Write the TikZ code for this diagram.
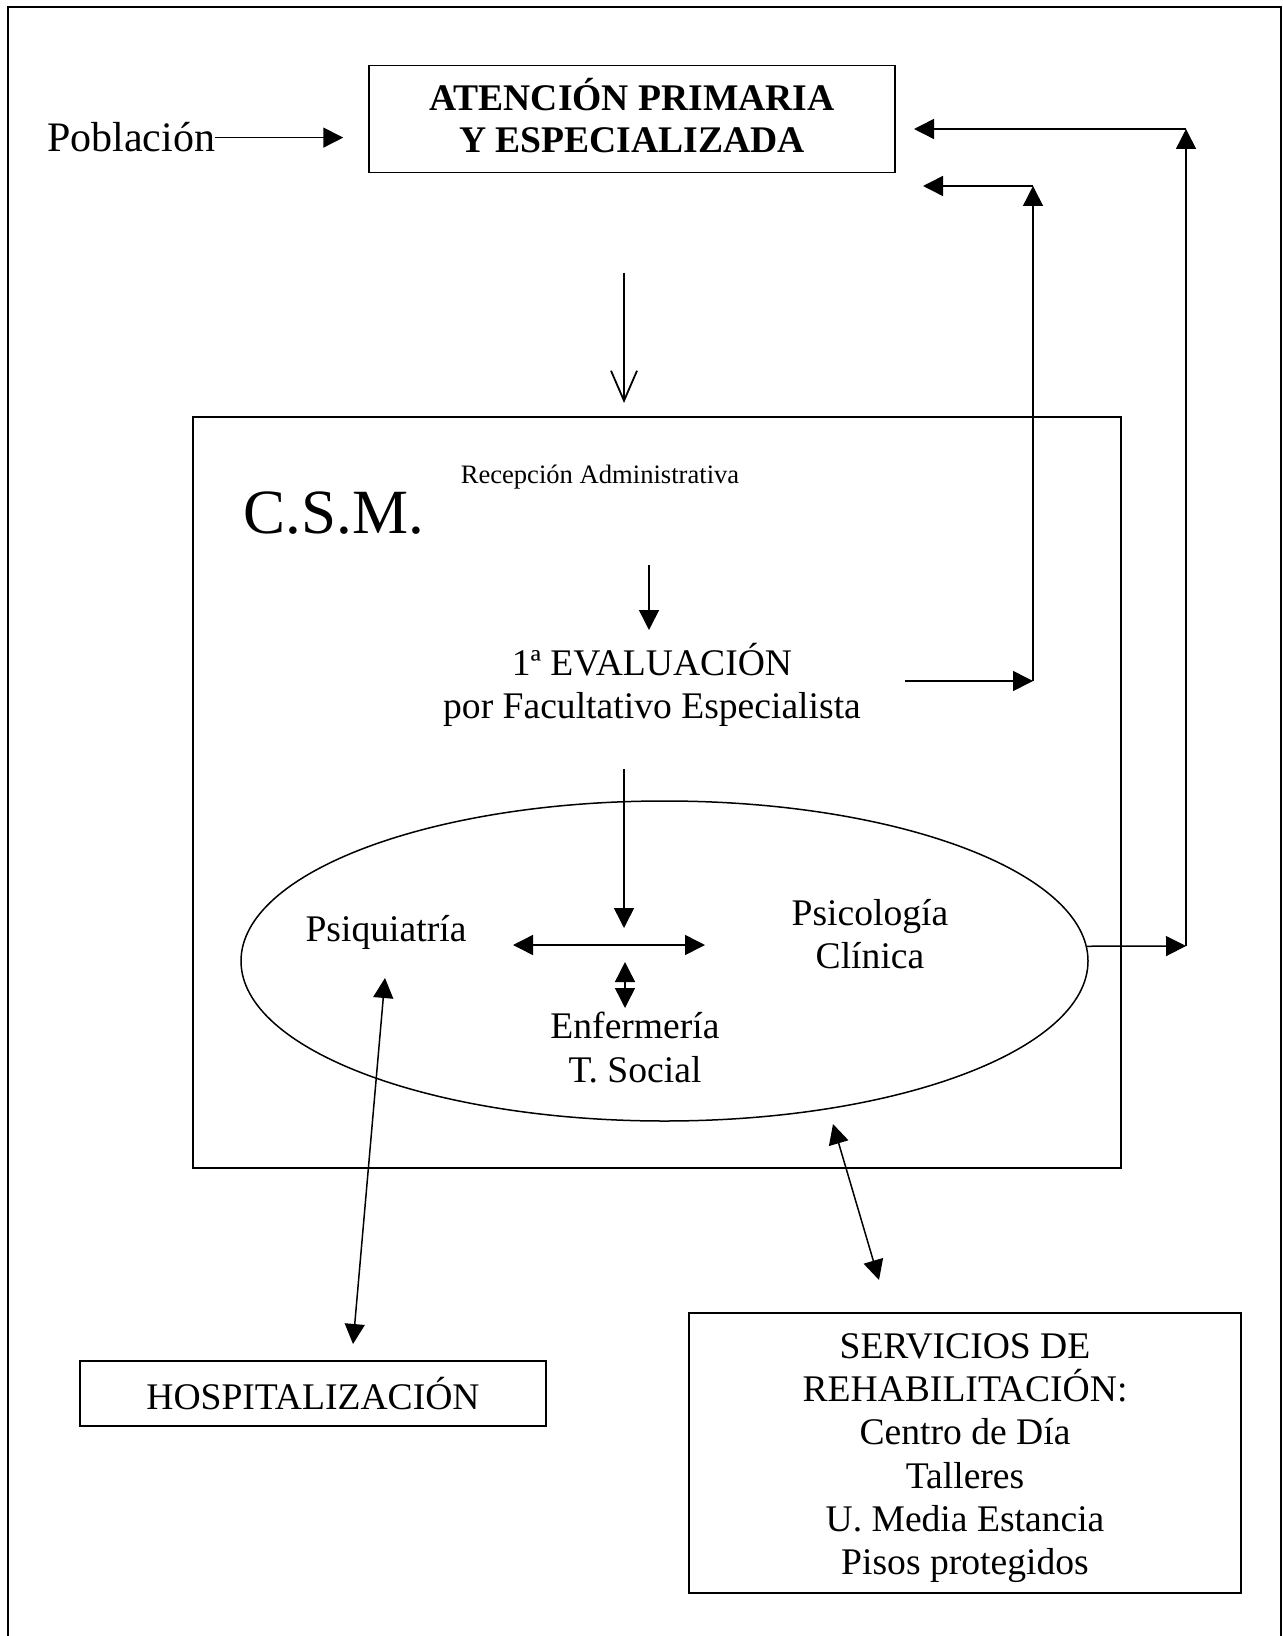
\documentclass[tikz,border=0pt]{standalone}
\usepackage{fontspec}
\setmainfont{Liberation Serif}
\usetikzlibrary{arrows.meta,shapes.geometric,positioning}
\tikzset{
  txt/.style={inner sep=0pt,align=center,font=\fontsize{18.8}{21.6}\selectfont},
  boxed/.style={draw,line width=0.75pt},
  arr/.style={line width=0.75pt,-{Triangle[length=10pt,width=10pt]}},
  dbl/.style={line width=0.75pt,{Triangle[length=10pt,width=10pt]}-{Triangle[length=10pt,width=10pt]}},
  bigarr/.style={line width=0.9pt,-{Straight Barb[length=15pt,width=13pt]}},
}
\begin{document}
\begin{tikzpicture}[x=0.5pt,y=-0.5pt]
\useasboundingbox (0,0) rectangle (1283,1636);
\draw[line width=0.75pt] (8,1636) -- (8,7) -- (1281,7) -- (1281,1636);
% top
\node[boxed,minimum width=263pt,minimum height=53.5pt] (aten) at (632,119) {};
\node[txt,font=\fontsize{18.8}{21}\selectfont\bfseries] (atentxt) at (632,116) {ATENCIÓN PRIMARIA\\Y ESPECIALIZADA};
\node[txt,anchor=base,font=\fontsize{21}{24}\selectfont] (pob) at (131,152) {Población};
\draw[arr] (pob.east) -- ([xshift=-12.5pt]pob.east -| aten.west);
% C.S.M.
\node[boxed,minimum width=464pt,minimum height=375.5pt] (csm) at (657,792.5) {};
\node[txt,anchor=base,font=\fontsize{31.5}{36}\selectfont] (csmlbl) at (334,533) {C.S.M.};
\node[txt,anchor=base,font=\fontsize{13.3}{16}\selectfont] (recep) at (600,483) {Recepción Administrativa};
\node[txt] (eval) at (652,685) {1ª EVALUACIÓN\\por Facultativo Especialista};
\node[boxed,ellipse,inner sep=0pt,minimum width=423.5pt,minimum height=160pt] (team) at (664.5,961) {};
\node[txt,anchor=base] (psiq) at (386,941) {Psiquiatría};
\node[txt] (psico) at (870,934) {Psicología\\Clínica};
\node[txt] (enf) at (635,1047.5) {Enfermería\\T. Social};
% bottom
\node[boxed,txt,minimum width=233pt,minimum height=32.5pt] (hosp) at (313,1393.5) {HOSPITALIZACIÓN};
\node[boxed,minimum width=276pt,minimum height=140pt] (rehab) at (965,1453) {};
\node[txt] (rehabtxt) at (965,1458) {SERVICIOS DE\\REHABILITACIÓN:\\Centro de Día\\Talleres\\U. Media Estancia\\Pisos protegidos};
% arrow ends
\coordinate (down1) at (624,273); \coordinate (down2) at (624,403);
\coordinate (rec1) at (649,565); \coordinate (rec2) at (649,630);
\coordinate (ev1) at (905,681); \coordinate (ev2) at (1033,681); \coordinate (ev3) at (1033,186); \coordinate (ev4) at (923,186);
\coordinate (tm1) at (1186,946); \coordinate (tm2) at (1186,129); \coordinate (tm3) at (914,129);
\coordinate (mid1) at (624,769); \coordinate (mid2) at (624,928);
\coordinate (hz1) at (513,945); \coordinate (hz2) at (705,945);
\coordinate (vt1) at (625,962); \coordinate (vt2) at (625,1008);
\coordinate (ps1) at (385,978); \coordinate (ps2) at (353,1344);
\coordinate (rh1) at (833,1124); \coordinate (rh2) at (879,1280);
% connectors
\draw[bigarr] (down1) -- (down2);
\draw[arr] (rec1) -- (rec2);
\draw[arr] (ev1) -- (ev2); \draw[arr] (ev2) -- (ev3); \draw[arr] (ev3) -- (ev4);
\draw[arr] (team.2) -- (tm1); \draw[arr] (tm1) -- (tm2); \draw[arr] (tm2) -- (tm3);
\draw[arr] (mid1) -- (mid2);
\draw[dbl] (hz1) -- (hz2); \draw[dbl] (vt1) -- (vt2);
\draw[dbl] (ps1) -- (ps2); \draw[dbl] (rh1) -- (rh2);
\end{tikzpicture}
\end{document}
